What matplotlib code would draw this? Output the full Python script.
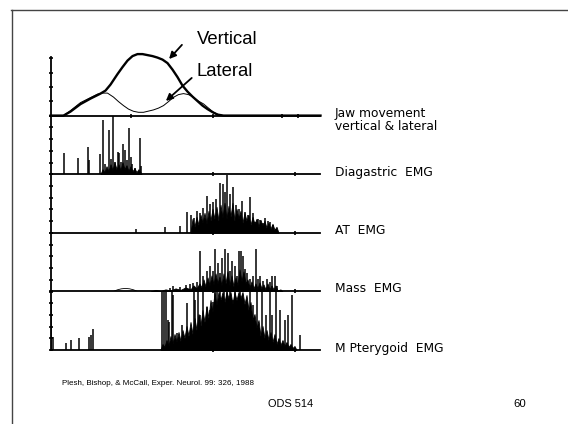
import matplotlib
matplotlib.use("Agg")
import matplotlib.pyplot as plt
from matplotlib.lines import Line2D
import numpy as np

# time axis: arbitrary units from trace onset, amplitude: arbitrary units above baseline
JAW_T = [0, 13, 20, 30, 40, 50, 55, 60, 67, 72, 77, 82, 87, 92, 97, 102, 107,
         112, 117, 122, 127, 132, 137, 142, 147, 152, 157, 162, 167, 173, 270]
JAW_VERT = [0, 0, 4, 11.5, 17, 22, 25, 31, 41.5, 48.5, 55, 59.5, 61.5, 61.5,
            60.5, 59.5, 58, 56, 52.5, 46, 38.5, 30, 24, 19, 14.5, 10, 6.5,
            3.5, 1, 0, 0]
LAT_T = [0, 13, 20, 30, 40, 47, 52, 57, 63, 68, 73, 78, 83, 88, 93, 98, 103,
         108, 113, 118, 123, 128, 133, 138, 143, 148, 153, 158, 163, 168, 172, 270]
JAW_LAT = [0, 0, 5, 13, 18, 21.5, 22.5, 22.5, 18.5, 14, 10, 6.5, 4.3, 3.3, 3.3,
           4.5, 5.7, 7.5, 10, 14, 18.3, 21, 22, 21, 18.3, 14.5, 11.7, 7.5,
           3.3, 1, 0, 0]

# discrete spikes (time, peak) and the dense burst outline (time, height)
DIAG_T = [13, 27, 37, 38.5, 49, 52, 54, 58, 60, 62, 64, 67, 68, 70, 72, 74,
          76, 78, 80, 81, 84, 89, 90]
DIAG_H = [21, 16, 27, 14, 20, 54, 10, 44, 15, 58, 12, 22, 21, 12, 30, 24, 14,
          46, 17, 10, 6, 36, 8]
DIAG_FLOOR_T = [50, 52, 54, 56, 58, 60, 62, 64, 66, 68, 70, 72, 74, 76, 78,
                80, 82, 84, 86, 88, 90, 91]
DIAG_FLOOR_H = [0, 5, 2, 8, 3, 10, 4, 12, 5, 10, 4, 12, 5, 9, 3, 8, 3, 6, 2,
                5, 2, 0]

AT_T = [85, 115, 130, 137, 141, 144, 147, 150, 153, 157, 160, 163, 166, 170,
        173, 175, 177, 180, 183, 186, 189, 192, 195, 198, 200, 203, 205, 208,
        210, 213, 215, 218, 220, 223, 226]
AT_H = [4, 6, 7, 21, 18, 15, 22, 20, 25, 37, 29, 31, 34, 50, 49, 41, 58, 39,
        46, 28, 24, 32, 21, 18, 36, 20, 11, 14, 13, 10, 15, 12, 11, 8, 4]
AT_FLOOR_T = [140, 142, 144, 146, 148, 150, 152, 154, 156, 158, 160, 162, 164,
              166, 168, 170, 172, 174, 176, 178, 180, 182, 184, 186, 188, 190,
              192, 194, 196, 198, 200, 202, 204, 206, 208, 210, 212, 214, 216,
              218, 220, 222, 224, 226, 228]
AT_FLOOR_H = [0, 14, 6, 16, 8, 18, 10, 20, 9, 22, 12, 24, 14, 26, 12, 28, 15,
              30, 14, 27, 16, 30, 12, 24, 14, 22, 10, 20, 12, 18, 8, 16, 9, 14,
              6, 13, 7, 12, 5, 10, 4, 9, 3, 6, 0]

MASS_T = [120, 123, 130, 136, 140, 143, 147, 150, 153, 157, 160, 163, 165,
          168, 170, 172, 175, 178, 180, 182, 185, 187, 189, 191, 193, 195,
          197, 200, 203, 206, 208, 210, 213, 217, 220, 222, 225, 227]
MASS_H = [3, 5, 4, 6, 7, 8, 9, 40, 15, 20, 25, 20, 42, 28, 18, 33, 42, 38, 20,
          30, 25, 15, 40, 40, 35, 22, 18, 12, 15, 42, 12, 15, 10, 12, 9, 15,
          15, 5]
MASS_FLOOR_T = [100, 105, 110, 115, 120, 125, 130, 135, 140, 143, 146, 149,
                151, 153, 155, 157, 159, 161, 163, 165, 167, 169, 171, 173,
                175, 177, 179, 181, 183, 185, 187, 189, 191, 193, 195, 197,
                199, 201, 203, 205, 207, 209, 211, 213, 215, 217, 219, 221,
                223, 225, 227, 230, 232]
MASS_FLOOR_H = [0, 1.5, 0.5, 2, 1, 3, 1.5, 4, 2, 6, 3, 8, 4, 12, 5, 14, 6, 16,
                7, 18, 8, 15, 6, 18, 8, 20, 6, 16, 5, 14, 6, 22, 10, 20, 8, 12,
                4, 10, 3, 8, 3, 9, 3, 7, 2, 8, 2, 6, 2, 6, 1, 2, 0]
MASS_HUMP_T = [63, 67, 71, 75, 79, 83, 87]
MASS_HUMP_H = [0, 1.6, 2.6, 3, 2.6, 1.6, 0]

MP_T = [0.5, 2, 15, 20, 28, 38, 40, 42,
        112, 114, 116, 117.5, 119, 122, 123, 127, 132, 137,
        141, 144, 145, 148, 150, 153, 157, 160, 163, 165,
        167, 170, 172, 174, 177, 180, 183, 185, 187, 190,
        193, 196, 200, 203, 207, 212, 216, 220, 222, 226,
        230, 235, 238, 242, 250]
MP_H = [50, 13, 7, 10, 12, 13, 15, 21,
        58, 58, 58, 30, 28, 58, 55, 17, 25, 47,
        22, 58, 50, 58, 35, 58, 43, 40, 48, 58,
        58, 58, 50, 58, 58, 58, 50, 58, 45, 58,
        40, 45, 58, 45, 58, 58, 35, 58, 35, 58,
        40, 30, 35, 55, 15]
MP_FLOOR_T = [110, 112, 114, 116, 118, 120, 122, 124, 126, 128, 130, 132, 134,
              136, 138, 140, 142, 144, 146, 148, 150, 152, 154, 156, 158, 160,
              162, 164, 166, 168, 170, 172, 174, 176, 178, 180, 182, 184, 186,
              188, 190, 192, 194, 196, 198, 200, 202, 204, 206, 208, 210, 212,
              214, 216, 218, 220, 222, 224, 226, 228, 230, 232, 234, 236, 238,
              240, 242, 244, 246]
MP_FLOOR_H = [0, 6, 3, 10, 4, 14, 6, 16, 8, 18, 9, 20, 12, 24, 14, 28, 16, 32,
              20, 36, 24, 40, 28, 44, 32, 50, 38, 58, 45, 58, 50, 58, 48, 58,
              52, 58, 46, 58, 50, 58, 52, 58, 46, 55, 40, 48, 30, 36, 22, 30,
              14, 24, 12, 20, 10, 18, 8, 16, 6, 12, 5, 10, 4, 8, 3, 6, 2, 4, 0]

LABELS = ["Jaw movement", "Diagastric  EMG", "AT  EMG", "Mass  EMG",
          "M Pterygoid  EMG"]

W, H = 568, 424
TOP, PH, LEFT, AW = 57, 58.6, 50.5, 270
YMAX = 58.6

fig = plt.figure(figsize=(W / 100, H / 100), dpi=100)
fig.patch.set_facecolor("white")

# slide frame
fig.add_artist(Line2D([11 / W, 1], [1 - 9.5 / H] * 2, color="#444444", lw=1.0))
fig.add_artist(Line2D([11.5 / W] * 2, [0, 1 - 9.5 / H], color="#444444", lw=1.0))

axes = []
for i in range(5):
    ax = fig.add_axes([LEFT / W, 1 - (TOP + (i + 1) * PH) / H, AW / W, PH / H])
    ax.set_xlim(0, 270)
    ax.set_ylim(0, YMAX)
    ax.patch.set_alpha(0)
    for s in ("top", "right"):
        ax.spines[s].set_visible(False)
    ax.spines["left"].set_linewidth(1.3)
    ax.spines["bottom"].set_linewidth(1.3)
    step = 14.3 if i == 0 else 11.7
    ax.set_yticks(np.arange(0, YMAX, step))
    ax.set_xticks([80, 163, 232, 248] if i == 0 else [163, 245])
    ax.tick_params(direction="inout", length=3.5, width=1.2,
                   labelleft=False, labelbottom=False)
    axes.append(ax)

# jaw traces
ax = axes[0]
ax.plot(JAW_T, JAW_VERT, color="k", lw=1.7, clip_on=False, solid_joinstyle="round")
ax.plot(LAT_T, JAW_LAT, color="k", lw=0.7, clip_on=False)
ax.annotate("", xy=(116.7, 54.5), xytext=(133.3, 72.8),
            arrowprops=dict(arrowstyle="-|>", color="k", lw=1.3,
                            mutation_scale=10), annotation_clip=False)
ax.annotate("", xy=(113.3, 12.8), xytext=(143.3, 39.5),
            arrowprops=dict(arrowstyle="-|>", color="k", lw=1.3,
                            mutation_scale=10), annotation_clip=False)

emg = [
    (DIAG_T, DIAG_H, DIAG_FLOOR_T, DIAG_FLOOR_H),
    (AT_T, AT_H, AT_FLOOR_T, AT_FLOOR_H),
    (MASS_T, MASS_H, MASS_FLOOR_T, MASS_FLOOR_H),
    (MP_T, MP_H, MP_FLOOR_T, MP_FLOOR_H),
]
for ax, (t, h, ft, fh) in zip(axes[1:], emg):
    ax.vlines(t, 0, h, colors="k", lw=1.1)
    ax.fill_between(ft, 0, fh, color="k", lw=0.6)

axes[3].plot(MASS_HUMP_T, MASS_HUMP_H, color="k", lw=0.6)

sans = ["Liberation Sans", "DejaVu Sans"]
fig.text(197 / W, 1 - 40 / H, "Vertical", fontsize=13.3, family=sans, va="center")
fig.text(197 / W, 1 - 71.7 / H, "Lateral", fontsize=13.3, family=sans, va="center")

label_y = [113, 172.7, 230, 288.5, 348.3]
for lab, y in zip(LABELS, label_y):
    fig.text(335 / W, 1 - y / H, lab, fontsize=8.8, family="DejaVu Sans", va="center")
fig.text(335 / W, 1 - 127 / H, "vertical & lateral", fontsize=8.8,
         family="DejaVu Sans", va="center")

fig.text(61.7 / W, 1 - 383.3 / H,
         "Plesh, Bishop, & McCall, Exper. Neurol. 99: 326, 1988",
         fontsize=5.8, family=sans, va="center")
fig.text(268.3 / W, 1 - 404 / H, "ODS 514", fontsize=7.9, family=sans, va="center")
fig.text(513.3 / W, 1 - 404 / H, "60", fontsize=8.2, family=sans, va="center")

fig.savefig("out.png", dpi=100)
